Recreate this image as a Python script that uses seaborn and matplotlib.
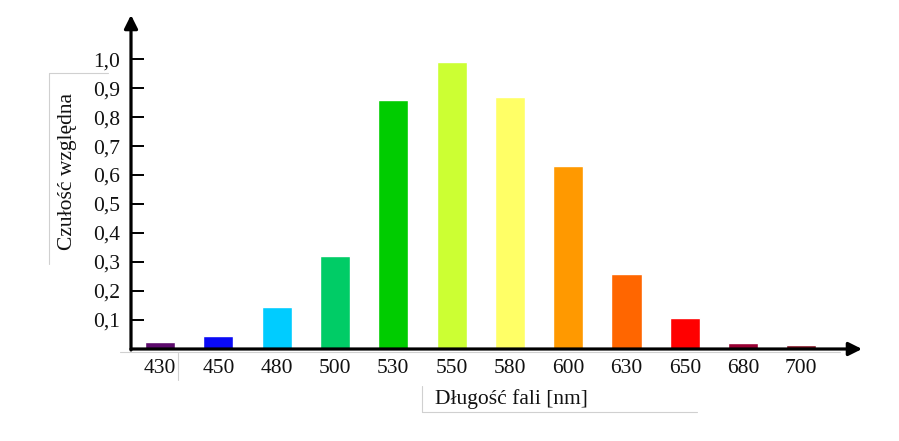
import numpy as np
import pandas as pd
import matplotlib
matplotlib.use('Agg')
import matplotlib.pyplot as plt
import seaborn as sns
from matplotlib.lines import Line2D

# Dane: względna czułość oka w zależności od długości fali
dlugosci = ['430', '450', '480', '500', '530', '550', '580', '600', '630', '650', '680', '700']
czulosc = [0.025, 0.045, 0.145, 0.32, 0.86, 0.99, 0.87, 0.63, 0.26, 0.107, 0.02, 0.015]
kolory = ['#5c0a6c', '#0a0af5', '#00ccff', '#00cc66', '#00cc00', '#ccff33',
          '#ffff66', '#ff9900', '#ff6600', '#ff0000', '#990033', '#801020']
y_ticks = [0.1, 0.2, 0.3, 0.4, 0.5, 0.6, 0.7, 0.8, 0.9, 1.0]

sns.set_style('white')
plt.rcParams['font.family'] = ['Liberation Serif', 'DejaVu Serif']

df = pd.DataFrame({'fala': dlugosci, 'czulosc': czulosc})

fig = plt.figure(figsize=(8.99, 4.41), dpi=100)
ax = fig.add_axes([131 / 899, 92 / 441, 731 / 899, 334 / 441])

sns.barplot(data=df, x='fala', y='czulosc', hue='fala', palette=kolory,
            legend=False, width=0.515, saturation=1, ax=ax)

ax.set_xlim(-0.5, 12.04)
ax.set_ylim(0, 1.152)
for s in ax.spines.values():
    s.set_visible(False)

# Osie ze strzałkami
arrow = dict(arrowstyle='-|>', lw=2.3, color='black', mutation_scale=20,
             shrinkA=0, shrinkB=0)
ax.annotate('', xy=(1, 0), xytext=(0, 0), xycoords='axes fraction', arrowprops=arrow)
ax.annotate('', xy=(0, 1), xytext=(0, -0.003), xycoords='axes fraction', arrowprops=arrow)

ax.set_yticks(y_ticks)
ax.set_yticklabels([f"{v:.1f}".replace('.', ',') for v in y_ticks])
ax.tick_params(axis='y', direction='in', length=9.5, width=1.4, color='black',
               labelsize=15.5, pad=8, left=True, labelcolor='#111111')
ax.tick_params(axis='x', length=0, labelsize=15.5, pad=7, labelcolor='#111111')

ax.set_xlabel('Długość fali [nm]', fontsize=15.5, color='#111111')
ax.set_ylabel('Czułość względna', fontsize=15.5, color='#111111')
ax.xaxis.set_label_coords(0.521, -0.12)
ax.yaxis.set_label_coords(-0.074, 0.53)

# Delikatne ramki pól tekstowych (jak w oryginale)
ramki = [
    ((422, 422), (386, 412)), ((422, 697), (412, 412)),
    ((120, 840), (352, 352)), ((178, 178), (353, 380)),
    ((49, 49), (73, 264)), ((49, 108), (73, 73)),
]
for xs, ys in ramki:
    fig.add_artist(Line2D([x / 899 for x in xs], [1 - y / 441 for y in ys],
                          color='#d0d0d0', lw=0.8))

plt.savefig('out.png', dpi=100)
